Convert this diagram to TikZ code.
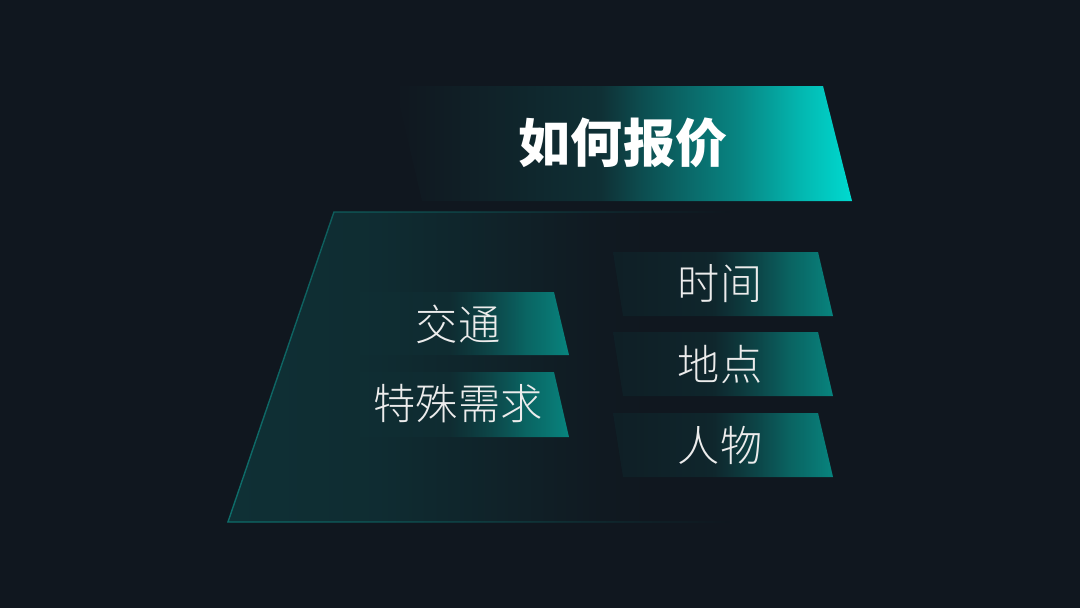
\documentclass[tikz,border=0pt]{standalone}
\usepackage{fontspec}
\newfontfamily\cjk{Noto Sans CJK SC}
\newfontfamily\cjklight{Noto Sans CJK SC Light}
\usepackage{tikz}
\usetikzlibrary{fadings}
\definecolor{cbg}{HTML}{10171F}
\definecolor{cdeep}{HTML}{0F3035}
\definecolor{cteal}{HTML}{08857F}
\definecolor{ccyan}{HTML}{00DAD0}
\definecolor{cedge}{HTML}{0E6E6B}
\definecolor{ctext}{HTML}{ECECEC}
\pgfdeclarehorizontalshading{BannerShade}{100bp}{color(0bp)=(cbg); color(25bp)=(cbg);
	color(37bp)=(cbg!50!cdeep); color(47.5bp)=(cdeep); color(52bp)=(ccyan!17!cdeep);
	color(56bp)=(ccyan!30!cdeep); color(62.5bp)=(ccyan!50!cdeep); color(69.5bp)=(ccyan!80!cdeep);
	color(75bp)=(ccyan); color(100bp)=(ccyan)}
\pgfdeclarehorizontalshading{TagShade}{100bp}{color(0bp)=(cdeep); color(25bp)=(cdeep);
	color(47.5bp)=(cdeep); color(56bp)=(cteal!36!cdeep); color(65bp)=(cteal!75!cdeep);
	color(75bp)=(cteal); color(100bp)=(cteal)}
\pgfdeclarehorizontalshading{BaseShade}{100bp}{color(0bp)=(cdeep); color(25bp)=(cdeep);
	color(40bp)=(cdeep!85!cbg); color(52bp)=(cdeep!45!cbg); color(62bp)=(cdeep!10!cbg);
	color(67bp)=(cbg); color(100bp)=(cbg)}
\tikzfading[name=BaseFade, left color=transparent!0, right color=transparent!100]
\tikzfading[name=TagFade, left color=transparent!70, middle color=transparent!0, right color=transparent!0]
\tikzset{
x=0.025cm, y=-0.025cm,
Banner/.style={
	shading=BannerShade
},
Tag/.style={
	shading=TagShade,
	path fading=TagFade
},
Base/.style={
	shading=BaseShade
},
BaseEdge/.style={
	draw=cedge,
	line width=1pt,
	path fading=BaseFade
},
Title/.style={
	text=white,
	font=\cjk\bfseries\fontsize{37}{40}\selectfont
},
Item/.style={
	text=ctext,
	font=\cjklight\fontsize{30}{34}\selectfont
}
}

\begin{document}
\begin{tikzpicture}
	\fill[cbg] (0,0) rectangle (1080,608);
	\useasboundingbox (0,0) rectangle (1080,608);

	% base
	\path[Base] (334,212) -- (730,212) -- (730,522) -- (228,522) -- cycle;
	\draw[BaseEdge] (730,212) -- (334,212) -- (228,522) -- (730,522);

	% title
	\path[Banner] (395,86) -- (823,86) -- (852,201) -- (422,201) -- cycle;
	\node[Title] (title) at (623,143) {如何报价};

	% left column
	\path[Tag] (350,292) -- (554,292) -- (569,355) -- (360,355) -- cycle;
	\path[Tag] (350,372) -- (554,372) -- (569,437) -- (360,437) -- cycle;
	\node[Item] (traffic) at (458,324) {交通};
	\node[Item] (special) at (458,404) {特殊需求};

	% right column
	\path[Tag] (613,252) -- (818,252) -- (833,316) -- (623,316) -- cycle;
	\path[Tag] (613,332) -- (818,332) -- (833,396) -- (623,396) -- cycle;
	\path[Tag] (613,413) -- (818,413) -- (833,477) -- (623,477) -- cycle;
	\node[Item] (time) at (720,284) {时间};
	\node[Item] (place) at (720,364) {地点};
	\node[Item] (people) at (720,445) {人物};
\end{tikzpicture}
\end{document}
